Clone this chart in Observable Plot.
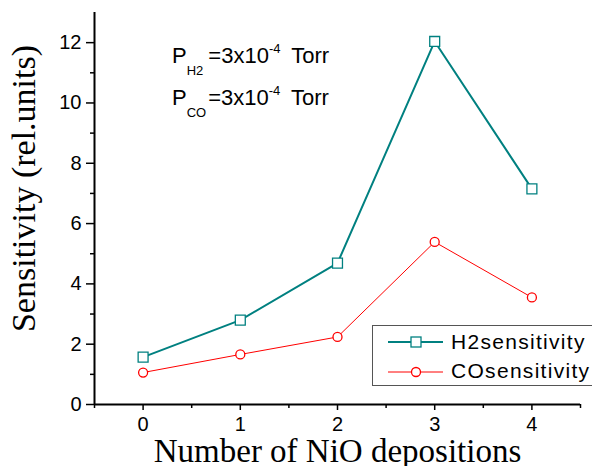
<!DOCTYPE html>
<html>
<head>
<meta charset="utf-8">
<script src="https://cdn.jsdelivr.net/npm/d3@7"></script>
<script src="https://cdn.jsdelivr.net/npm/@observablehq/plot@0.6"></script>
<style>
  html, body { margin: 0; padding: 0; background: #fff; overflow: hidden; }
  #wrap { position: relative; width: 592px; height: 466px; }
  #overlay { position: absolute; left: 0; top: 0; pointer-events: none; }
</style>
</head>
<body>
<div id="wrap"></div>
<script>
// ---- data ----
const depositions = [0, 1, 2, 3, 4];
const h2Sensitivity = [1.57, 2.8, 4.69, 12.04, 7.15];
const coSensitivity = [1.06, 1.66, 2.24, 5.39, 3.55];
const majorXTicks = [0, 1, 2, 3, 4];
const minorXTicks = [-0.5, 0.5, 1.5, 2.5, 3.5, 4.5];
const majorYTicks = [0, 2, 4, 6, 8, 10, 12];
const minorYTicks = [1, 3, 5, 7, 9, 11];
const seriesNames = ["H2sensitivity", "COsensitivity"];
const xTitle = "Number of NiO depositions";
const yTitle = "Sensitivity (rel.units)";

const h2 = depositions.map((d, i) => ({x: d, y: h2Sensitivity[i]}));
const co = depositions.map((d, i) => ({x: d, y: coSensitivity[i]}));

const teal = "#008080";
const red = "#ff0000";
const sans = "'Liberation Sans', Arial, sans-serif";
const serif = "'Liberation Serif', 'Times New Roman', serif";

const chart = Plot.plot({
  width: 592,
  height: 466,
  marginLeft: 94,
  marginRight: 12,
  marginTop: 12,
  marginBottom: 62,
  style: {background: "#fff", color: "#000", overflow: "visible"},
  x: {domain: [-0.5, 4.5]},
  y: {domain: [0, 13]},
  marks: [
    Plot.axisY(majorYTicks, {tickSize: 8, tickPadding: 5, fontSize: 20, fontFamily: sans, strokeWidth: 1.5, label: null, fill: "#000"}),
    Plot.axisY(minorYTicks, {tickSize: 4, strokeWidth: 1.5, text: null, label: null}),
    Plot.axisX(majorXTicks, {tickSize: 6, tickPadding: 6, fontSize: 20, fontFamily: sans, strokeWidth: 1.5, label: null, fill: "#000"}),
    Plot.axisX(minorXTicks, {tickSize: 4, strokeWidth: 1.5, text: null, label: null}),
    Plot.ruleX([-0.5], {stroke: "#000", strokeWidth: 2}),
    Plot.ruleY([0], {stroke: "#000", strokeWidth: 2}),
    Plot.text([yTitle], {frameAnchor: "left", textAnchor: "middle", rotate: -90, dx: -70, dy: -20, fontSize: 34, fontFamily: serif, fill: "#000", lineAnchor: "middle"}),
    Plot.text([xTitle], {frameAnchor: "bottom", textAnchor: "middle", dy: 47, fontSize: 33, fontFamily: serif, fill: "#000", lineAnchor: "middle"}),
    Plot.line(co, {x: "x", y: "y", stroke: red, strokeWidth: 1}),
    Plot.line(h2, {x: "x", y: "y", stroke: teal, strokeWidth: 2}),
    Plot.dot(co, {x: "x", y: "y", r: 4.5, symbol: "circle", stroke: red, strokeWidth: 1.3, fill: "#fff"}),
    Plot.dot(h2, {x: "x", y: "y", r: 5.6, symbol: "square", stroke: teal, strokeWidth: 1.3, fill: "#fff"})
  ]
});

const wrap = document.getElementById("wrap");
wrap.appendChild(chart);

// ---- overlay: annotation + legend ----
const svg = d3.select(wrap).append("svg")
  .attr("id", "overlay").attr("width", 592).attr("height", 466);

function pressure(y, sub, subDx) {
  const t = svg.append("text").attr("x", 172).attr("y", y)
    .attr("font-family", sans).attr("font-size", 22).attr("fill", "#000");
  t.append("tspan").text("P");
  t.append("tspan").attr("font-size", 13).attr("dy", 12).text(sub);
  t.append("tspan").attr("dy", -12).attr("dx", subDx).text("=3x10");
  t.append("tspan").attr("font-size", 13).attr("dy", -10).text("-4");
  t.append("tspan").attr("dy", 10).attr("dx", 5).text(" Torr");
}
pressure(63, "H2", 5);
pressure(105, "CO", 2);

const lg = svg.append("g");
lg.append("rect").attr("x", 372.5).attr("y", 325.5).attr("width", 240).attr("height", 60)
  .attr("fill", "#fff").attr("stroke", "#555").attr("stroke-width", 1);
// H2 entry
lg.append("line").attr("x1", 388).attr("x2", 443).attr("y1", 342).attr("y2", 342)
  .attr("stroke", teal).attr("stroke-width", 2);
lg.append("rect").attr("x", 411).attr("y", 337).attr("width", 10).attr("height", 10)
  .attr("fill", "#fff").attr("stroke", teal).attr("stroke-width", 1.3);
lg.append("text").attr("x", 451).attr("y", 349).attr("font-family", sans).attr("font-size", 21)
  .attr("letter-spacing", 1.3).attr("fill", "#000").text(seriesNames[0]);
// CO entry
lg.append("line").attr("x1", 388).attr("x2", 443).attr("y1", 372).attr("y2", 372)
  .attr("stroke", red).attr("stroke-width", 1);
lg.append("circle").attr("cx", 416).attr("cy", 372).attr("r", 4.5)
  .attr("fill", "#fff").attr("stroke", red).attr("stroke-width", 1.3);
lg.append("text").attr("x", 451).attr("y", 378).attr("font-family", sans).attr("font-size", 21)
  .attr("letter-spacing", 1.3).attr("fill", "#000").text(seriesNames[1]);
</script>
</body>
</html>
